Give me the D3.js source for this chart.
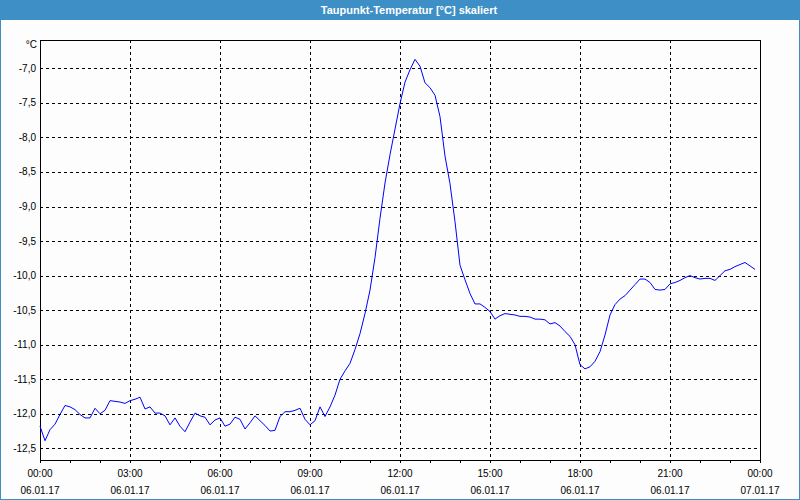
<!DOCTYPE html>
<html>
<head>
<meta charset="utf-8">
<script src="https://cdn.jsdelivr.net/npm/d3@7"></script>
<style>
  body { margin: 0; background: #fcfdfc; }
  text { font-family: "Liberation Sans", Arial, sans-serif; }
</style>
</head>
<body>
<svg id="chart" width="800" height="500"></svg>
<script>
// chart data: dew point, one value every 10 minutes
var day = "2017-01-06";
var times = [
  "00:00","00:10","00:20","00:30","00:40","00:50","01:00","01:10","01:20","01:30","01:40","01:50",
  "02:00","02:10","02:20","02:30","02:40","02:50","03:00","03:10","03:20","03:30","03:40","03:50",
  "04:00","04:10","04:20","04:30","04:40","04:50","05:00","05:10","05:20","05:30","05:40","05:50",
  "06:00","06:10","06:20","06:30","06:40","06:50","07:00","07:10","07:20","07:30","07:40","07:50",
  "08:00","08:10","08:20","08:30","08:40","08:50","09:00","09:10","09:20","09:30","09:40","09:50",
  "10:00","10:10","10:20","10:30","10:40","10:50","11:00","11:10","11:20","11:30","11:40","11:50",
  "12:00","12:10","12:20","12:30","12:40","12:50","13:00","13:10","13:20","13:30","13:40","13:50",
  "14:00","14:10","14:20","14:30","14:40","14:50","15:00","15:10","15:20","15:30","15:40","15:50",
  "16:00","16:10","16:20","16:30","16:40","16:50","17:00","17:10","17:20","17:30","17:40","17:50",
  "18:00","18:10","18:20","18:30","18:40","18:50","19:00","19:10","19:20","19:30","19:40","19:50",
  "20:00","20:10","20:20","20:30","20:40","20:50","21:00","21:10","21:20","21:30","21:40","21:50",
  "22:00","22:10","22:20","22:30","22:40","22:50","23:00","23:10","23:20","23:30","23:40","23:50"
];
var dewPoint = [
  -12.18,-12.39,-12.23,-12.15,-12.01,-11.88,-11.90,-11.94,-12.01,-12.06,-12.06,-11.92,
  -12.00,-11.95,-11.81,-11.82,-11.83,-11.85,-11.81,-11.79,-11.76,-11.93,-11.90,-11.99,
  -11.99,-12.03,-12.16,-12.06,-12.18,-12.26,-12.12,-11.99,-12.03,-12.05,-12.16,-12.09,
  -12.06,-12.18,-12.15,-12.05,-12.08,-12.22,-12.13,-12.03,-12.10,-12.17,-12.25,-12.24,
  -12.04,-11.97,-11.97,-11.95,-11.92,-12.08,-12.16,-12.10,-11.90,-12.04,-11.90,-11.73,
  -11.50,-11.38,-11.27,-11.07,-10.84,-10.55,-10.21,-9.74,-9.17,-8.66,-8.25,-7.88,
  -7.51,-7.20,-7.02,-6.87,-6.97,-7.21,-7.28,-7.39,-7.70,-8.27,-8.67,-9.22,
  -9.85,-10.06,-10.26,-10.41,-10.41,-10.46,-10.52,-10.63,-10.58,-10.55,-10.56,-10.57,
  -10.59,-10.59,-10.60,-10.63,-10.63,-10.64,-10.70,-10.68,-10.73,-10.81,-10.88,-11.00,
  -11.29,-11.35,-11.32,-11.24,-11.10,-10.86,-10.57,-10.42,-10.34,-10.29,-10.21,-10.13,
  -10.05,-10.05,-10.10,-10.20,-10.21,-10.20,-10.12,-10.10,-10.07,-10.03,-10.00,-10.03,
  -10.05,-10.04,-10.04,-10.07,-10.00,-9.93,-9.91,-9.87,-9.84,-9.81,-9.86,-9.91
];
var yTicks = [-12.5,-12.0,-11.5,-11.0,-10.5,-10.0,-9.5,-9.0,-8.5,-8.0,-7.5,-7.0];
var yDomain = [-12.669, -6.590];
var title = "Taupunkt-Temperatur [°C] skaliert";
var unit = "°C";

var svg = d3.select("#chart"),
    width = +svg.attr("width"),
    height = +svg.attr("height");
var margin = {top: 40, right: 40, bottom: 40, left: 40};
var blue = "#3d8fc6";

var parse = d3.timeParse("%Y-%m-%d %H:%M");
var data = times.map(function(t, i) {
  return {date: parse(day + " " + t), value: dewPoint[i]};
});
var start = parse(day + " 00:00");
var end = d3.timeDay.offset(start, 1);

var x = d3.scaleTime()
    .domain([start, end])
    .range([margin.left, width - margin.right]);
var y = d3.scaleLinear()
    .domain(yDomain)
    .range([height - margin.bottom, margin.top]);

// window frame + title bar
svg.append("rect")
    .attr("x", 0.5).attr("y", 0.5)
    .attr("width", width - 1).attr("height", height - 1)
    .attr("fill", "#fcfdfc")
    .attr("stroke", blue);
svg.append("rect")
    .attr("x", 0).attr("y", 0)
    .attr("width", width).attr("height", 20)
    .attr("fill", blue);
svg.append("text")
    .attr("x", 409).attr("y", 14)
    .attr("text-anchor", "middle")
    .attr("fill", "#fff")
    .attr("font-size", "11px")
    .attr("font-weight", "bold")
    .text(title);

// grid
var grid = svg.append("g")
    .attr("stroke", "#000")
    .attr("stroke-dasharray", "3,3")
    .attr("shape-rendering", "crispEdges");
grid.selectAll("line.h")
  .data(yTicks)
  .enter().append("line")
    .attr("class", "h")
    .attr("x1", margin.left).attr("x2", width - margin.right)
    .attr("y1", function(d) { return Math.round(y(d)) + 0.5; })
    .attr("y2", function(d) { return Math.round(y(d)) + 0.5; });
grid.selectAll("line.v")
  .data(x.ticks(d3.timeHour.every(3)).slice(1, -1))
  .enter().append("line")
    .attr("class", "v")
    .attr("y1", margin.top).attr("y2", height - margin.bottom)
    .attr("x1", function(d) { return Math.round(x(d)) + 0.5; })
    .attr("x2", function(d) { return Math.round(x(d)) + 0.5; });

// x axis: hourly ticks, labels every 3 hours
var xAxis = svg.append("g")
    .attr("transform", "translate(0," + (height - margin.bottom) + ")")
    .call(d3.axisBottom(x)
      .ticks(d3.timeHour.every(1))
      .tickSize(3)
      .tickSizeOuter(0)
      .tickFormat(""));
xAxis.select(".domain").remove();
xAxis.selectAll("line").attr("stroke", "#000").attr("shape-rendering", "crispEdges");

var labelTimes = x.ticks(d3.timeHour.every(3));
var fmtTime = d3.timeFormat("%H:%M"),
    fmtDate = d3.timeFormat("%d.%m.%y");
svg.append("g").selectAll("text")
  .data(labelTimes)
  .enter().append("text")
    .attr("x", function(d) { return x(d); })
    .attr("y", 477)
    .attr("text-anchor", "middle")
    .attr("font-size", "10px")
    .attr("fill", "#000")
    .text(fmtTime);
svg.append("g").selectAll("text")
  .data(labelTimes)
  .enter().append("text")
    .attr("x", function(d) { return x(d); })
    .attr("y", 494)
    .attr("text-anchor", "middle")
    .attr("font-size", "10px")
    .attr("fill", "#000")
    .text(fmtDate);

// y labels
var fmtY = function(d) { return d3.format(".1f")(d).replace(".", ",").replace("−", "-"); };
svg.append("g").selectAll("text")
  .data(yTicks)
  .enter().append("text")
    .attr("x", 36)
    .attr("y", function(d) { return y(d); })
    .attr("dy", "0.35em")
    .attr("text-anchor", "end")
    .attr("font-size", "10px")
    .attr("fill", "#000")
    .text(fmtY);
svg.append("text")
    .attr("x", 37).attr("y", 48)
    .attr("text-anchor", "end")
    .attr("font-size", "10px")
    .attr("fill", "#000")
    .text(unit);

// plot frame
svg.append("rect")
    .attr("x", margin.left + 0.5).attr("y", margin.top + 0.5)
    .attr("width", width - margin.left - margin.right)
    .attr("height", height - margin.top - margin.bottom)
    .attr("fill", "none")
    .attr("stroke", "#000")
    .attr("shape-rendering", "crispEdges");

// dew point line
var line = d3.line()
    .x(function(d) { return x(d.date); })
    .y(function(d) { return y(d.value); });
svg.append("path")
    .datum(data)
    .attr("fill", "none")
    .attr("stroke", "#0000ff")
    .attr("stroke-width", 1)
    .attr("d", line);
</script>
</body>
</html>
